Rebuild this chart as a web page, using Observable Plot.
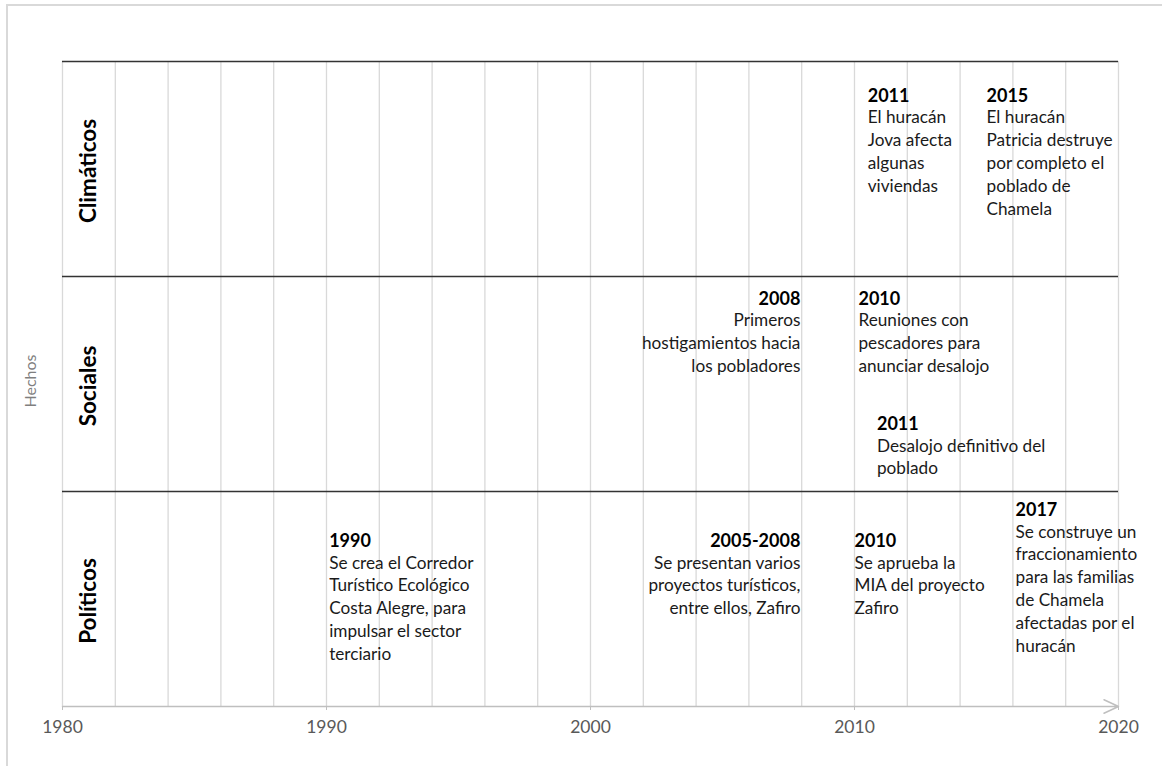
<!DOCTYPE html>
<html><head><meta charset="utf-8">
<script src="https://cdn.jsdelivr.net/npm/d3@7"></script>
<script src="https://cdn.jsdelivr.net/npm/@observablehq/plot@0.6"></script>
<style>
body{margin:0;background:#fff;}
#wrap{position:relative;width:1162px;height:766px;overflow:hidden;background:#fff;}
#frame{position:absolute;left:6px;top:4px;width:1200px;height:800px;border-left:2px solid #d9d9d9;border-top:2px solid #d9d9d9;}
#chart{position:absolute;left:0;top:0;}
</style></head><body>
<div id="wrap"><div id="frame"></div><div id="chart"></div></div>
<script>
// tick labels on the time axis
const tickYears = [1980, 1990, 2000, 2010, 2020];
// row categories (top to bottom)
const categories = ["Climáticos", "Sociales", "Políticos"];
// events
const eventLabels = ["2011", "2015", "2008", "2010", "2011", "1990", "2005-2008", "2010", "2017"];
const eventCategory = ["Climáticos", "Climáticos", "Sociales", "Sociales", "Sociales", "Políticos", "Políticos", "Políticos", "Políticos"];
const eventAnchorYear = [2010.5, 2015, 2007.95, 2010.15, 2010.85, 1990.1, 2007.95, 2010.0, 2016.1];
const eventRowOffset = [0.158, 0.158, 0.102, 0.102, 0.684, 0.228, 0.228, 0.228, 0.084];
const eventSide = ["start", "start", "end", "start", "start", "start", "end", "start", "start"];
const eventText = [
  "El huracán\nJova afecta\nalgunas\nviviendas",
  "El huracán\nPatricia destruye\npor completo el\npoblado de\nChamela",
  "Primeros\nhostigamientos hacia\nlos pobladores",
  "Reuniones con\npescadores para\nanunciar desalojo",
  "Desalojo definitivo del\npoblado",
  "Se crea el Corredor\nTurístico Ecológico\nCosta Alegre, para\nimpulsar el sector\nterciario",
  "Se presentan varios\nproyectos turísticos,\nentre ellos, Zafiro",
  "Se aprueba la\nMIA del proyecto\nZafiro",
  "Se construye un\nfraccionamiento\npara las familias\nde Chamela\nafectadas por el\nhuracán"
];
const axisTitle = "Hechos";

const rows = categories.map((c, i) => ({c, i, mid: i + 0.5}));
const events = eventLabels.map((lab, k) => ({
  lab,
  x: eventAnchorYear[k],
  y: categories.indexOf(eventCategory[k]) + eventRowOffset[k],
  side: eventSide[k],
  body: "\n" + eventText[k],
  head: lab + "\n"
}));
const startEv = events.filter(d => d.side === "start");
const endEv = events.filter(d => d.side === "end");
const gridYears = d3.range(1980, 2021, 2);

const FONT = "Lato, 'Open Sans', sans-serif";
const LINE = 22.8, fsBody = 17.2, fsHead = 18;

const textMarks = (data, anchor) => [
  Plot.text(data, {x: "x", y: "y", text: "body", textAnchor: anchor, lineAnchor: "top", lineHeight: LINE / fsBody, fontSize: fsBody, fill: "#1a1a1a", dy: -11}),
  Plot.text(data, {x: "x", y: "y", text: "head", textAnchor: anchor, lineAnchor: "top", lineHeight: LINE / fsHead, fontSize: fsHead, fontWeight: "bold", fill: "#000", dy: -10})
];

const chart = Plot.plot({
  width: 1162,
  height: 766,
  marginLeft: 62,
  marginRight: 44,
  marginTop: 61,
  marginBottom: 60,
  style: {fontFamily: FONT, background: "transparent"},
  x: {domain: [1980, 2020]},
  y: {domain: [0, 3], range: [61, 706], axis: null},
  marks: [
    Plot.ruleX(gridYears, {y1: 0, y2: 3, stroke: "#d9d9d9", strokeWidth: 1.3}),
    Plot.ruleY(rows, {y: "i", x1: 1980, x2: 2020, stroke: "#333", strokeWidth: 1.6}),
    Plot.arrow([0], {x1: 1980, x2: 2020, y1: 3, y2: 3, stroke: "#bfbfbf", strokeWidth: 1.5, headLength: 16, headAngle: 50}),
    Plot.axisX(tickYears, {tickSize: 4, stroke: "#bfbfbf", fill: "#595959", fontSize: 17.5, tickPadding: 10, tickFormat: d => String(d), label: null}),
    Plot.text(rows, {x: 1981, y: "mid", text: "c", rotate: -90, dy: 2, fontSize: 22.5, fontWeight: "bold", fill: "#000"}),
    Plot.text([axisTitle], {frameAnchor: "left", textAnchor: "middle", dx: -32, dy: -3, rotate: -90, fontSize: 16, fill: "#7f7f7f"}),
    ...textMarks(startEv, "start"),
    ...textMarks(endEv, "end")
  ]
});
document.getElementById("chart").appendChild(chart);
</script>
</body></html>
